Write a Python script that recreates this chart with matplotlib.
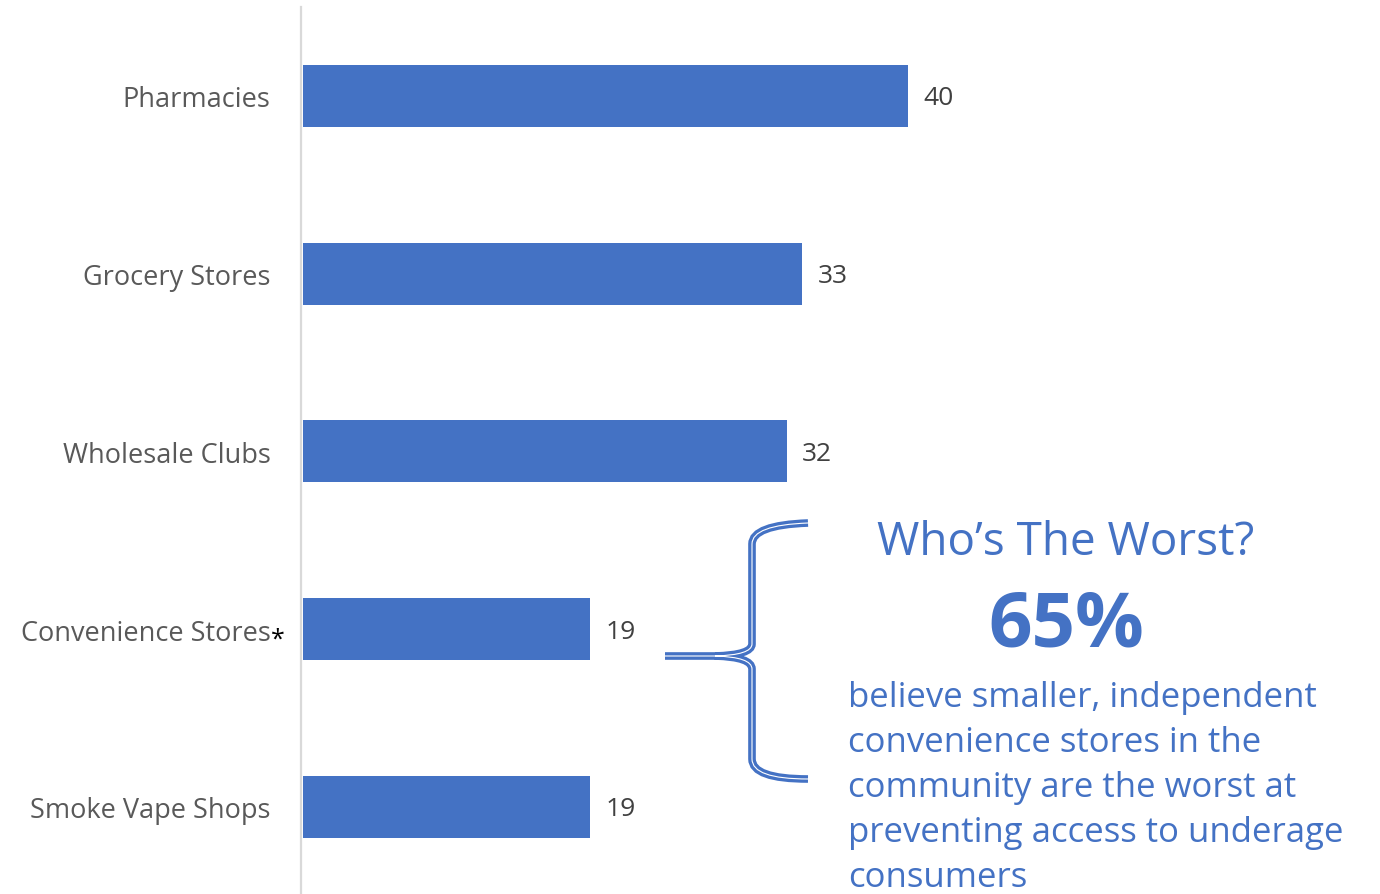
import matplotlib.pyplot as plt
from matplotlib.path import Path
from matplotlib.patches import PathPatch

# data
categories = ["Pharmacies", "Grocery Stores", "Wholesale Clubs", "Convenience Stores", "Smoke Vape Shops"]
values = [40, 33, 32, 19, 19]
callout_title = "Who\u2019s The Worst?"
callout_pct = "65%"
callout_lines = ["believe smaller, independent", "convenience stores in the",
                 "community are the worst at", "preventing access to underage", "consumers"]

blue = "#4472C4"
W, H = 1380, 895

plt.rcParams['font.family'] = ['Open Sans', 'DejaVu Sans']

fig = plt.figure(figsize=(W / 100, H / 100), dpi=100)
ax_left, ax_top, ax_bottom = 301, 8, 895
ax = fig.add_axes([ax_left / W, 1 - ax_bottom / H, (W - ax_left) / W, (ax_bottom - ax_top) / H])

ypos = list(range(len(categories)))
ax.barh(ypos, values, height=0.35, color=blue, left=0.13)
ax.set_xlim(0, (W - ax_left) / 15.125)
ax.set_ylim(4.49, -0.5)
ax.set_yticks(ypos)
ax.set_yticklabels(categories, fontsize=19.5, color="#595959")
ax.tick_params(axis='y', length=0, pad=22)
ax.set_xticks([])
for s in ["top", "right", "bottom"]:
    ax.spines[s].set_visible(False)
ax.spines["left"].set_color("#d9d9d9")
ax.spines["left"].set_linewidth(1.6)

for y, v in zip(ypos, values):
    ax.annotate(str(v), xy=(v + 0.13, y), xytext=(11, -1.5), textcoords="offset points",
                va="center", ha="left", fontsize=19, color="#404040")

fig.text(278 / W, 1 - 640 / H, "*", fontsize=18, color="black", ha="center", va="center")


# curly brace in pixel coords
def px(x, y):
    return (x / W, 1 - y / H)

verts = [px(808, 524), px(752, 526), px(752, 545), px(752, 645), px(752, 656), px(715, 657),
         px(665, 657), px(715, 657), px(752, 658), px(752, 670), px(752, 760), px(752, 780), px(808, 780)]
codes = [Path.MOVETO, Path.CURVE3, Path.CURVE3, Path.LINETO, Path.CURVE3, Path.CURVE3,
         Path.LINETO, Path.MOVETO, Path.CURVE3, Path.CURVE3, Path.LINETO, Path.CURVE3, Path.CURVE3]
brace = Path(verts, codes)
fig.patches.append(PathPatch(brace, facecolor="none", edgecolor=blue, lw=5.5,
                             transform=fig.transFigure, capstyle="butt"))
fig.patches.append(PathPatch(brace, facecolor="none", edgecolor="white", lw=0.8,
                             transform=fig.transFigure, capstyle="butt"))

fig.text(1066 / W, 1 - 543 / H, callout_title, fontsize=33, color=blue, ha="center", va="center")
fig.text(1066 / W, 1 - 627 / H, callout_pct, fontsize=55, color=blue, ha="center", va="center",
         fontweight="bold")
for i, line in enumerate(callout_lines):
    fig.text(848 / W, 1 - (698 + 45 * i) / H, line, fontsize=25, color=blue, ha="left", va="center")

fig.savefig("out.png", dpi=100)
